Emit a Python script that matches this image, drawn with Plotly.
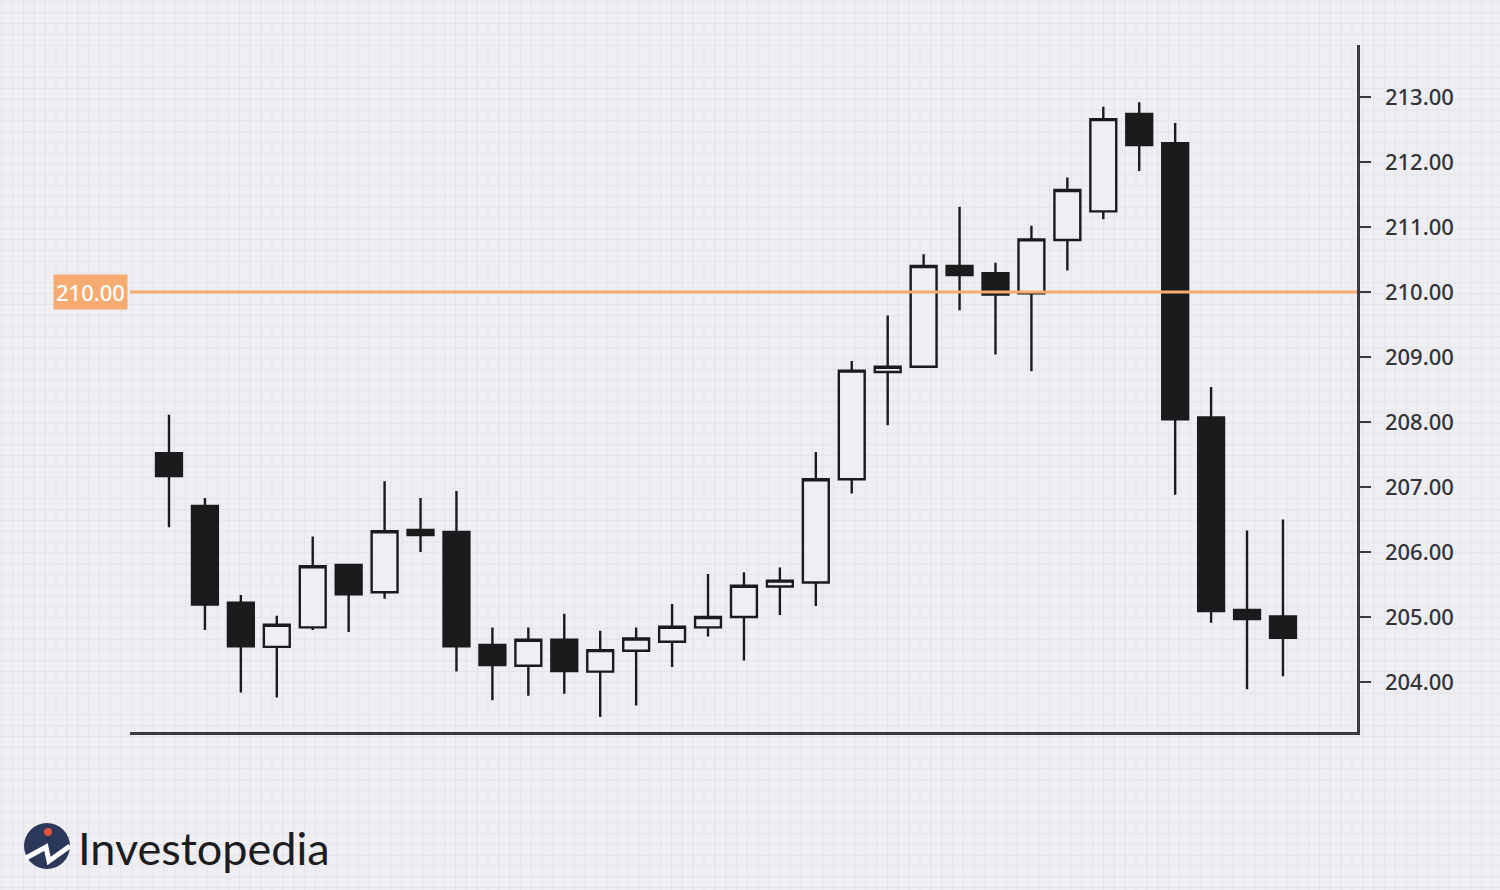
import plotly.graph_objects as go

# ---- data ----
periods = list(range(1, 33))
opens = [207.52, 206.71, 205.22, 204.54, 204.84, 205.80, 205.38, 206.34, 206.31, 204.57,
         204.25, 204.65, 204.16, 204.48, 204.62, 204.84, 205.00, 205.47, 205.53, 207.12,
         208.77, 208.85, 210.40, 210.29, 209.98, 210.80, 211.24, 212.74, 212.29, 208.07,
         205.11, 205.01]
highs = [208.11, 206.83, 205.34, 205.02, 206.24, 205.80, 207.09, 206.83, 206.94, 204.84,
         204.84, 205.05, 204.79, 204.84, 205.20, 205.66, 205.69, 205.76, 207.54, 208.94,
         209.64, 210.58, 211.31, 210.45, 211.02, 211.76, 212.85, 212.92, 212.60, 208.54,
         206.33, 206.50]
lows = [206.38, 204.80, 203.84, 203.76, 204.80, 204.77, 205.28, 206.00, 204.16, 203.72,
        203.79, 203.82, 203.46, 203.64, 204.23, 204.70, 204.33, 205.03, 205.17, 206.90,
        207.95, 208.85, 209.72, 209.04, 208.78, 210.33, 211.12, 211.86, 206.88, 204.91,
        203.89, 204.09]
closes = [207.17, 205.19, 204.55, 204.88, 205.78, 205.35, 206.32, 206.26, 204.55, 204.26,
          204.65, 204.17, 204.49, 204.67, 204.85, 205.00, 205.48, 205.56, 207.12, 208.79,
          208.85, 210.40, 210.26, 209.96, 210.81, 211.57, 212.66, 212.26, 208.04, 205.09,
          204.97, 204.68]
y_ticks = [204, 205, 206, 207, 208, 209, 210, 211, 212, 213]
level = 210.0
level_label = "210.00"
brand = "Investopedia"

BG = "#efeff3"
GRID = "#e3e3ea"
INK = "#1b1b1d"
AXIS = "#3b3b40"
ORANGE = "#f6ab70"

W, H = 1500, 890
ML, MR, MT, MB = 130, 143, 45, 158
PW, PH = W - ML - MR, H - MT - MB


def px(x):
    return (x - ML) / PW


def py(y):
    return (H - MB - y) / PH


fig = go.Figure()
fig.add_trace(go.Candlestick(
    x=periods, open=opens, high=highs, low=lows, close=closes,
    increasing=dict(line=dict(color=INK, width=2.4), fillcolor=BG),
    decreasing=dict(line=dict(color=INK, width=2.4), fillcolor=INK),
    whiskerwidth=0, showlegend=False, hoverinfo="skip",
))

shapes = []
# page-wide light grid
step = 10.8
x = 2.0
while x < W:
    shapes.append(dict(type="line", xref="paper", yref="paper", x0=px(x), x1=px(x),
                       y0=py(0), y1=py(H), line=dict(color=GRID, width=1), layer="below"))
    x += step
y = 2.0
while y < H:
    shapes.append(dict(type="line", xref="paper", yref="paper", x0=px(0), x1=px(W),
                       y0=py(y), y1=py(y), line=dict(color=GRID, width=1), layer="below"))
    y += step

# support/resistance level
shapes.append(dict(type="line", xref="paper", yref="y", x0=0, x1=1, y0=level, y1=level,
                   line=dict(color=ORANGE, width=3), layer="above"))

# logo icon
cx, cy, r = 47, 846, 23
shapes.append(dict(type="circle", xref="paper", yref="paper",
                   x0=px(cx - r), x1=px(cx + r), y0=py(cy + r), y1=py(cy - r),
                   fillcolor="#2c3859", line=dict(width=0), layer="above"))
pts = [(26, 858), (46, 847), (49, 861), (70, 846)]
path = "M " + " L ".join(f"{px(a):.5f},{py(b):.5f}" for a, b in pts)
shapes.append(dict(type="path", xref="paper", yref="paper", path=path,
                   line=dict(color="white", width=5), layer="above"))
shapes.append(dict(type="circle", xref="paper", yref="paper",
                   x0=px(44), x1=px(52), y0=py(836), y1=py(828),
                   fillcolor="#e4533a", line=dict(width=0), layer="above"))

annotations = [
    dict(xref="paper", yref="y", x=0, y=level, text=level_label, showarrow=False,
         xanchor="right", yanchor="middle", xshift=-2,
         bgcolor=ORANGE, borderpad=2,
         font=dict(family="Noto Sans", size=22, color="white", weight=500)),
    dict(xref="paper", yref="paper", x=px(76), y=py(848), text=brand, showarrow=False,
         xanchor="left", yanchor="middle",
         font=dict(family="Lato", size=45, color="#1c1c1e")),
]

fig.update_layout(
    width=W, height=H,
    margin=dict(l=ML, r=MR, t=MT, b=MB, pad=0),
    paper_bgcolor=BG, plot_bgcolor="rgba(0,0,0,0)",
    boxgap=0.28, boxgroupgap=0,
    shapes=shapes, annotations=annotations,
    xaxis=dict(range=[-0.085, 34.06], showgrid=False, zeroline=False,
               showticklabels=False, ticks="", showline=True, linecolor=AXIS,
               linewidth=2.5, rangeslider=dict(visible=False), fixedrange=True),
    yaxis=dict(range=[203.231, 213.8], side="right", showgrid=False, zeroline=False,
               tickvals=y_ticks, ticktext=[f"{v:.2f}" for v in y_ticks],
               ticks="outside", ticklen=11, tickwidth=2, tickcolor=AXIS,
               showline=True, linecolor=AXIS, linewidth=2.5,
               ticklabelstandoff=10, fixedrange=True,
               tickfont=dict(family="Noto Sans", size=22, color="#333338", weight=500)),
)

fig.write_html("out.html", config={"displayModeBar": False, "staticPlot": True},
               post_script="document.body.style.margin='0';document.body.style.overflow='hidden';")
